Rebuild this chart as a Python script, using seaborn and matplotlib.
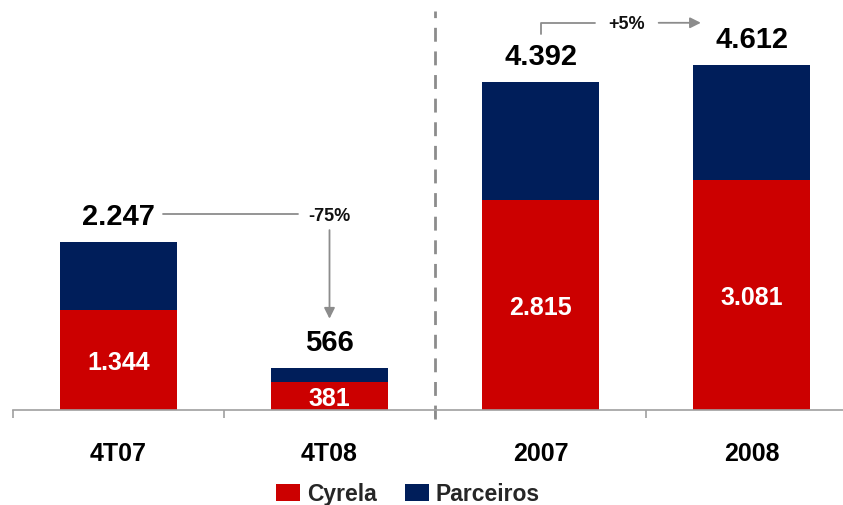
import numpy as np
import pandas as pd
import matplotlib
matplotlib.use("Agg")
import matplotlib.pyplot as plt
from matplotlib.transforms import offset_copy
import seaborn as sns

# values
periods = ["4T07", "4T08", "2007", "2008"]
cyrela = [1344, 381, 2815, 3081]
totals = [2247, 566, 4392, 4612]
cyrela_labels = ["1.344", "381", "2.815", "3.081"]
total_labels = ["2.247", "566", "4.392", "4.612"]

RED = "#CC0000"
NAVY = "#001E5A"
GREY = "#8C8C8C"

sns.set_theme(style="white")
plt.rcParams['font.family'] = ['Liberation Sans', 'DejaVu Sans']
plt.rcParams['font.weight'] = 'bold'

df = pd.DataFrame({"periodo": periods, "Cyrela": cyrela, "Total": totals})

fig = plt.figure(figsize=(8.43, 5.06), dpi=100)
# category width ~211px, baseline at y=411px
ax = fig.add_axes([13 / 843, 95 / 506, 844 / 843, 411 / 506])

sns.barplot(x="periodo", y="Total", data=df, color=NAVY, width=0.55,
            saturation=1, ax=ax, label="Parceiros", linewidth=0)
sns.barplot(x="periodo", y="Cyrela", data=df, color=RED, width=0.55,
            saturation=1, ax=ax, label="Cyrela", linewidth=0)

ax.set_xlim(-0.5, 3.5)
ax.set_ylim(0, 5500)
ax.set_xlabel("")
ax.set_ylabel("")
ax.set_yticks([])

for s in ["top", "right", "left"]:
    ax.spines[s].set_visible(False)
ax.spines["bottom"].set_color("#A0A0A0")
ax.spines["bottom"].set_linewidth(1.2)

ax.set_xticks(range(4))
ax.set_xticklabels(periods)
ax.tick_params(axis="x", which="major", length=0, pad=22, labelsize=18,
               labelcolor="black")
for t in ax.get_xticklabels():
    t.set_fontweight("bold")
ax.set_xticks([-0.5, 0.5, 1.5, 2.5, 3.5], minor=True)
ax.tick_params(axis="x", which="minor", length=6, width=1.2, color="#A0A0A0",
               direction="out", bottom=True)

def shifted(px):
    return offset_copy(ax.transData, fig=fig, x=0, y=px * 0.72, units="points")

# labels
for i in range(4):
    ax.text(i, cyrela[i] / 2, cyrela_labels[i], ha="center", va="center_baseline",
            color="white", fontsize=18, fontweight="bold")
    ax.text(i, totals[i], total_labels[i], ha="center", va="baseline",
            color="black", fontsize=21, fontweight="bold", transform=shifted(18))

# separator
ax.plot([1.5, 1.5], [-0.022, 0.971], transform=ax.get_xaxis_transform(),
        clip_on=False, color=GREY, lw=2, dashes=(5, 3.5))

# -75% annotation
ax.plot([0.21, 0.85], [totals[0], totals[0]], color=GREY, lw=1.3,
        transform=shifted(28))
ax.text(1.0, totals[0], "-75%", ha="center", va="center", fontsize=13,
        fontweight="bold", color="#111111", transform=shifted(27))
ax.annotate("", xy=(1.0, totals[1]), xycoords=shifted(49),
            xytext=(1.0, totals[0]), textcoords=shifted(12),
            arrowprops=dict(arrowstyle="-|>", color=GREY, lw=1.3,
                            shrinkA=0, shrinkB=0, mutation_scale=16))

# +5% annotation
ax.plot([2.0, 2.0, 2.26], [totals[2], totals[2] + 147, totals[2] + 147],
        color=GREY, lw=1.3, transform=shifted(48))
ax.text(2.41, totals[2], "+5%", ha="center", va="center", fontsize=13,
        fontweight="bold", color="#111111", transform=shifted(58))
ax.annotate("", xy=(2.76, totals[2]), xycoords=shifted(59),
            xytext=(2.56, totals[2]), textcoords=shifted(59),
            arrowprops=dict(arrowstyle="-|>", color=GREY, lw=1.3,
                            shrinkA=0, shrinkB=0, mutation_scale=16))

handles, labels = ax.get_legend_handles_labels()
order = [labels.index("Cyrela"), labels.index("Parceiros")]
fig.legend([handles[k] for k in order], [labels[k] for k in order],
           loc="center", bbox_to_anchor=(408 / 843, 1 - 495 / 506), ncol=2,
           frameon=False, prop={"size": 16.5, "weight": "bold"},
           handlelength=1.05, handleheight=0.75, handletextpad=0.3,
           columnspacing=1.2)
if ax.get_legend() is not None:
    ax.get_legend().remove()

plt.savefig("out.png", dpi=100)
